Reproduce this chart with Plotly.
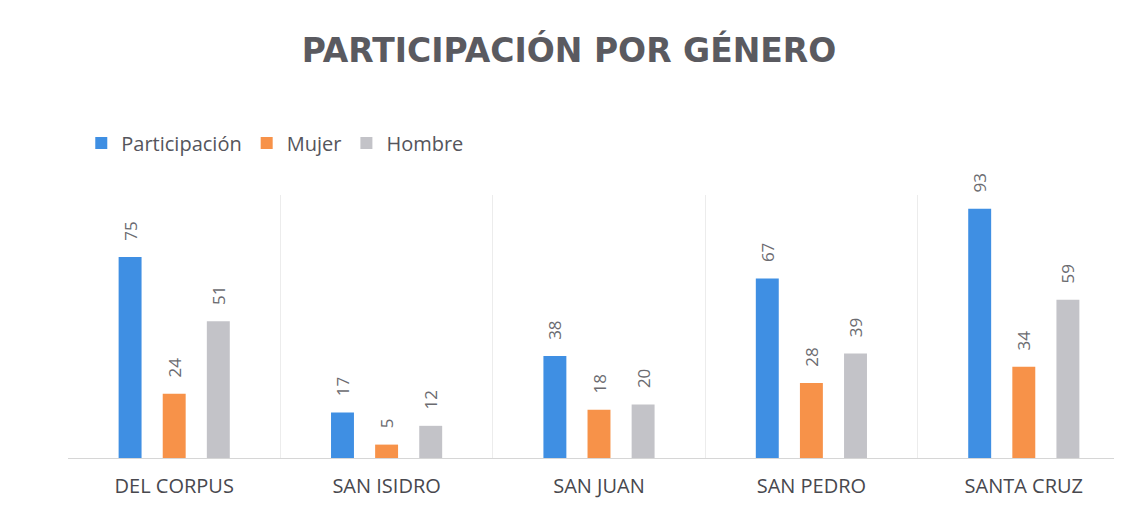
import plotly.graph_objects as go

categories = ["DEL CORPUS", "SAN ISIDRO", "SAN JUAN", "SAN PEDRO", "SANTA CRUZ"]
participacion = [75, 17, 38, 67, 93]
mujer = [24, 5, 18, 28, 34]
hombre = [51, 12, 20, 39, 59]

series = [
    ("Participación", participacion, "#3f8fe3"),
    ("Mujer", mujer, "#f79249"),
    ("Hombre", hombre, "#c3c3c8"),
]

fig = go.Figure()
for name, vals, color in series:
    fig.add_trace(go.Bar(
        name=name, x=categories, y=vals,
        marker=dict(color=color, line=dict(width=0)),
        text=vals, texttemplate="\u00a0\u00a0\u00a0%{y}",
        textposition="outside", textangle=-90, constraintext="none",
        textfont=dict(family="Open Sans", size=17, color="#6b6b70"),
        cliponaxis=False,
    ))

fig.update_layout(
    width=1122, height=527,
    margin=dict(l=60, r=0, t=187, b=77),
    paper_bgcolor="white", plot_bgcolor="white",
    barmode="group", bargap=0.377, bargroupgap=0.48,
    title=dict(text="<b>PARTICIPACIÓN POR GÉNERO</b>", x=0.5, xanchor="center",
               y=0.92, yanchor="middle",
               font=dict(family="DejaVu Sans", size=33, color="#5a5a60")),
    legend=dict(orientation="h", x=0.0125, xanchor="left", y=1.198, yanchor="middle",
                font=dict(family="Open Sans", size=20, color="#55555c"),
                itemwidth=30, traceorder="normal"),
    xaxis=dict(
        range=[-0.5, 4.5], tickson="boundaries", showgrid=True,
        gridcolor="#ececec", gridwidth=1, showline=True, linecolor="#d6d6d6",
        ticks="", ticklabelstandoff=10,
        tickfont=dict(family="Open Sans", size=20, color="#48484e"),
        zeroline=False,
    ),
    yaxis=dict(range=[0, 98.1], visible=False, showgrid=False, zeroline=False),
)

fig.write_html("out.html")
